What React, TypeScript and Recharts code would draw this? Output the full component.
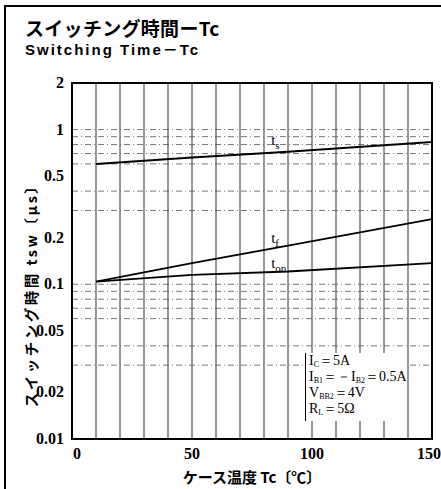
import { LineChart, Line, XAxis, YAxis, ReferenceLine, ReferenceArea, ReferenceDot, Label } from "recharts";

const temps = [10, 50, 90, 150];
const tsValues = [0.6, 0.66, 0.72, 0.83];
const tfValues = [0.104, 0.137, 0.178, 0.264];
const tonValues = [0.104, 0.115, 0.121, 0.137];

const xTicks = [0, 50, 100, 150];
const yTicks = [0.01, 0.02, 0.05, 0.1, 0.2, 0.5, 1, 2];
const xGrid = [10, 20, 30, 40, 50, 60, 70, 80, 90, 100, 110, 120, 130, 140];
const yGrid = [0.03, 0.04, 0.06, 0.07, 0.08, 0.09, 0.1, 0.3, 0.4, 0.6, 0.7, 0.8, 0.9, 1];

const data = temps.map((t, i) => ({ tc: t, ts: tsValues[i], tf: tfValues[i], ton: tonValues[i] }));

const serif = "'Liberation Serif', 'DejaVu Serif', serif";
const jp = "'Noto Sans CJK JP', sans-serif";

const tickStyle = { fontFamily: serif, fontWeight: 700, fontSize: 16, fill: "#000" } as const;

function XTick(props: any) {
  const { x, y, payload } = props;
  return (
    <text x={x + (payload.value === 0 ? 5 : 0)} y={y + 12} textAnchor="middle" fontFamily={serif} style={tickStyle}>
      {payload.value}
    </text>
  );
}

function YTick(props: any) {
  const { x, y, payload } = props;
  return (
    <text x={x} y={y + 5} textAnchor="end" fontFamily={serif} style={tickStyle}>
      {payload.value}
    </text>
  );
}

function SeriesLabel(props: any) {
  const { viewBox, main, sub } = props;
  return (
    <text x={viewBox.x} y={viewBox.y} style={{ fontFamily: serif, fontSize: 15, fill: "#000" }}>
      {main}
      <tspan dy={4} style={{ fontSize: 11 }}>{sub}</tspan>
    </text>
  );
}

function YTitle(props: any) {
  const { viewBox } = props;
  const cx = 30;
  const cy = viewBox.y + viewBox.height / 2 + 31;
  return (
    <text
      x={cx}
      y={cy}
      transform={`rotate(-90 ${cx} ${cy})`}
      textAnchor="middle"
      dominantBaseline="central"
      style={{ fontFamily: jp, fontWeight: 700, fontSize: 14.5, letterSpacing: 2.5, fill: "#000" }}
    >
      スイッチング時間 tsw〔μs〕
    </text>
  );
}

const sub = { fontSize: 8, lineHeight: 0, verticalAlign: "-2px" } as const;

export default function App() {
  return (
    <div style={{ position: "absolute", left: 0, top: 0, width: 441, height: 489, background: "#fff", overflow: "hidden" }}>
      <div style={{ position: "absolute", left: 4, top: 5, width: 440, height: 490, borderLeft: "2px solid #000", borderTop: "2px solid #000" }} />
      <div style={{ position: "absolute", left: 25, top: 16, fontFamily: jp, fontWeight: 700, fontSize: 19, lineHeight: "23px", letterSpacing: 0.3 }}>
        スイッチング時間ーTc
      </div>
      <div style={{ position: "absolute", left: 25, top: 41, fontFamily: "'Liberation Sans', 'Noto Sans CJK JP', sans-serif", fontWeight: 700, fontSize: 15, lineHeight: "18px", letterSpacing: 2 }}>
        Switching Time－Tc
      </div>
      <LineChart width={441} height={489} data={data} margin={{ top: 83, right: 9, left: 22, bottom: 20 }}>
        {xGrid.map((x) => (
          <ReferenceLine key={"x" + x} x={x} stroke="#333" strokeWidth={1} />
        ))}
        {yGrid.map((y) => (
          <ReferenceLine key={"y" + y} y={y} stroke="#555" strokeWidth={0.8} strokeDasharray="6 3 1 3" />
        ))}
        <ReferenceArea x1={0} x2={150} y1={0.01} y2={2} fill="none" stroke="#000" strokeWidth={2} />
        <XAxis
          dataKey="tc"
          type="number"
          domain={[0, 150]}
          ticks={xTicks}
          tick={<XTick />}
          axisLine={{ stroke: "#000", strokeWidth: 2 }}
          tickLine={false}
          height={30}
        >
          <Label value="ケース温度 Tc〔℃〕" position="insideBottom" offset={-14} style={{ fontSize: 15, fontFamily: jp, fontWeight: 700, fill: "#000" }} />
        </XAxis>
        <YAxis
          type="number"
          scale="log"
          domain={[0.01, 2]}
          ticks={yTicks}
          allowDataOverflow
          tick={<YTick />}
          axisLine={{ stroke: "#000", strokeWidth: 2 }}
          tickLine={false}
          tickMargin={2}
          width={50}
        >
          <Label content={<YTitle />} />
        </YAxis>
        <Line type="linear" dataKey="ts" stroke="#000" strokeWidth={2} dot={false} isAnimationActive={false} />
        <Line type="linear" dataKey="tf" stroke="#000" strokeWidth={1.8} dot={false} isAnimationActive={false} />
        <Line type="linear" dataKey="ton" stroke="#000" strokeWidth={1.8} dot={false} isAnimationActive={false} />
        <ReferenceDot x={83} y={0.8} r={0} label={<SeriesLabel main="t" sub="s" />} />
        <ReferenceDot x={83} y={0.185} r={0} label={<SeriesLabel main="t" sub="f" />} />
        <ReferenceDot x={83} y={0.128} r={0} label={<SeriesLabel main="t" sub="on" />} />
      </LineChart>
      <div
        style={{
          position: "absolute",
          left: 305,
          top: 353,
          paddingLeft: 3,
          paddingBottom: 4,
          borderLeft: "1px solid #000",
          fontFamily: serif,
          fontSize: 14,
          lineHeight: "16px",
          background: "#fff",
          color: "#000",
        }}
      >
        <div>I<sub style={sub}>C</sub>＝5A</div>
        <div>I<sub style={sub}>B1</sub>＝－I<sub style={sub}>B2</sub>＝0.5A</div>
        <div>V<sub style={sub}>BB2</sub>＝4V</div>
        <div>R<sub style={sub}>L</sub>＝5Ω</div>
      </div>
    </div>
  );
}
